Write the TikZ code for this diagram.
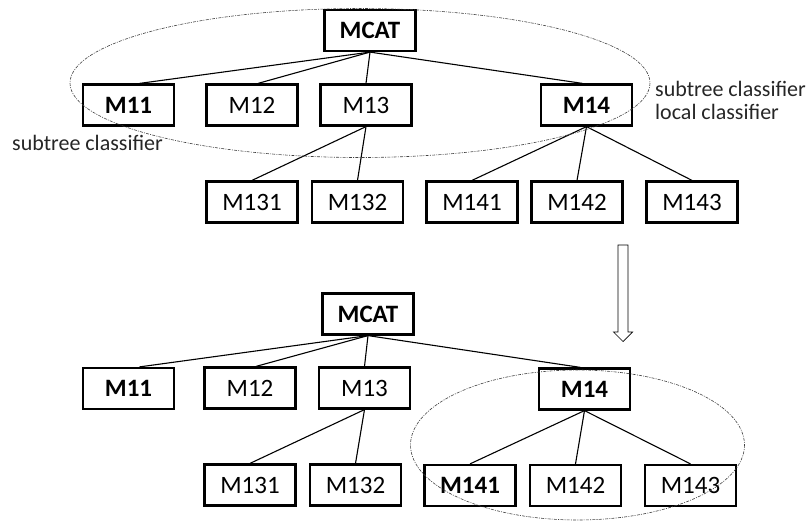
\documentclass[tikz,border=0pt]{standalone}
\usepackage{fontspec}
\setmainfont{Carlito}
\begin{document}
\begin{tikzpicture}[x=1pt,y={(0pt,-1pt)},
  box/.style={draw,line width=2.2pt,minimum width=91pt,minimum height=41pt,
    inner sep=0pt,font=\fontsize{25}{29}\selectfont},
  bbox/.style={box,font=\fontsize{25}{29}\selectfont\bfseries},
  edge/.style={line width=1.1pt},
  group/.style={draw=black!75,line width=0.6pt,dash pattern=on 3pt off 1.2pt on 1pt off 1.2pt},
  note/.style={inner sep=0pt,anchor=base west,font=\fontsize{22}{25}\selectfont,text=black!85}]
\useasboundingbox (0,0) rectangle (807,522);

% ---- upper tree ----
\node[bbox] (tcat) at (370,30.5) {MCAT};
\node[bbox] (t11) at (128.5,105) {M11};
\node[box]  (t12) at (252,105) {M12};
\node[box]  (t13) at (366,105) {M13};
\node[bbox] (t14) at (586.5,105) {M14};
\node[box]  (t131) at (252,202) {M131};
\node[box]  (t132) at (357.5,202) {M132};
\node[box]  (t141) at (472,202) {M141};
\node[box]  (t142) at (577,202) {M142};
\node[box]  (t143) at (692,202) {M143};

\draw[edge] (tcat.south) -- ([xshift=11pt]t11.north);
\draw[edge] (tcat.south) -- ([xshift=6pt]t12.north);
\draw[edge] (tcat.south) -- (t13.north);
\draw[edge] (tcat.south) -- ([xshift=-4pt]t14.north);
\draw[edge] (t13.south) -- (t131.north);
\draw[edge] (t13.south) -- (t132.north);
\draw[edge] (t14.south) -- (t141.north);
\draw[edge] (t14.south) -- (t142.north);
\draw[edge] (t14.south) -- (t143.north);

\node[note] (lsub) at (12,150.7) {subtree classifier};
\node[note] (rsub) at (655,96.7) {subtree classifier};
\node[note] (rloc) at (655,119.3) {local classifier};

\draw[group] (360,83) ellipse [x radius=290, y radius=74.5];

% ---- transition arrow ----
\draw[line width=0.7pt,fill=white]
  (618,245) -- (628,245) -- (628,332) -- (632.5,332) -- (623,341.5)
  -- (613.5,332) -- (618,332) -- cycle;

% ---- lower tree ----
\node[bbox] (bcat) at (368,314) {MCAT};
\node[bbox] (b11) at (128.5,388.5) {M11};
\node[box]  (b12) at (250,388) {M12};
\node[box]  (b13) at (364.5,388) {M13};
\node[bbox] (b14) at (584.5,389) {M14};
\node[box]  (b131) at (250,485) {M131};
\node[box]  (b132) at (355.5,485) {M132};
\node[bbox] (b141) at (470,485.5) {M141};
\node[box]  (b142) at (575.5,485.5) {M142};
\node[box]  (b143) at (690.5,485.5) {M143};

\draw[edge] (bcat.south) -- ([xshift=11pt]b11.north);
\draw[edge] (bcat.south) -- ([xshift=6pt]b12.north);
\draw[edge] (bcat.south) -- (b13.north);
\draw[edge] (bcat.south) -- ([xshift=-4pt]b14.north);
\draw[edge] (b13.south) -- (b131.north);
\draw[edge] (b13.south) -- (b132.north);
\draw[edge] (b14.south) -- (b141.north);
\draw[edge] (b14.south) -- (b142.north);
\draw[edge] (b14.south) -- (b143.north);

\draw[group] (577.5,445) ellipse [x radius=167, y radius=75];
\end{tikzpicture}
\end{document}
